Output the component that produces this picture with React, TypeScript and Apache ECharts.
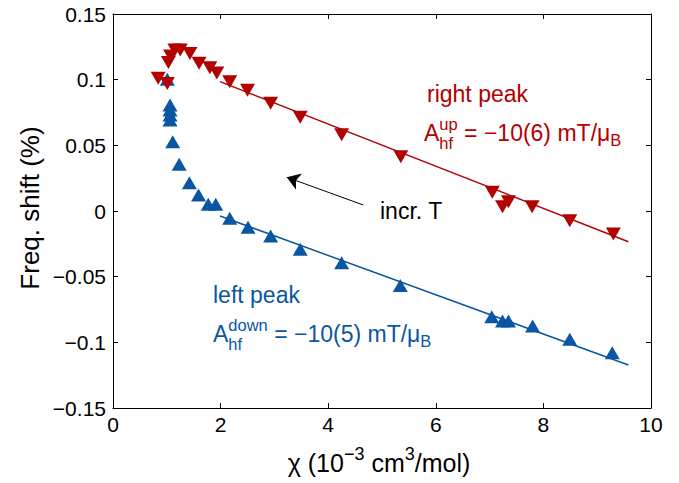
import React, { useEffect, useRef } from 'react';
import * as echarts from 'echarts';

const FONT = '"Liberation Sans", Arial, Helvetica, sans-serif';
const RED = '#B30000';
const BLUE = '#0A56A3';

// right peak (down triangles)
const rightPeakX = [0.84, 1.01, 1.03, 1.07, 1.15, 1.25, 1.43, 1.60, 1.80, 1.93, 2.17, 2.50, 2.93, 3.48, 4.25, 5.35, 7.05, 7.24, 7.35, 7.79, 8.49, 9.30];
const rightPeakY = [0.101, 0.097, 0.113, 0.118, 0.1226, 0.1226, 0.120, 0.1125, 0.109, 0.105, 0.0985, 0.092, 0.082, 0.0714, 0.058, 0.0414, 0.0142, 0.0033, 0.0071, 0.0033, -0.0074, -0.0175];
// left peak (up triangles)
const leftPeakX = [1.01, 1.06, 1.06, 1.06, 1.06, 1.11, 1.23, 1.42, 1.59, 1.77, 1.91, 2.17, 2.51, 2.93, 3.48, 4.25, 5.34, 7.04, 7.24, 7.35, 7.80, 8.49, 9.28];
const leftPeakY = [0.1003, 0.0807, 0.0769, 0.0731, 0.0693, 0.0528, 0.0356, 0.0216, 0.0122, 0.0051, 0.0051, -0.0056, -0.0124, -0.019, -0.0292, -0.0394, -0.0567, -0.0805, -0.0838, -0.0838, -0.0876, -0.0977, -0.1079];
// linear fits
const rightFitX = [1.99, 9.58];
const rightFitY = [0.0985, -0.0234];
const leftFitX = [1.99, 9.58];
const leftFitY = [-0.0038, -0.1173];
// arrow "incr. T"
const arrowFrom = [4.65, 0.0046];
const arrowTo = [3.23, 0.0257];

const xMin = 0, xMax = 10, xStep = 2;
const yMin = -0.15, yMax = 0.15, yStep = 0.05;

const zip = (xs: number[], ys: number[]) => xs.map((x, i) => [x, ys[i]]);

let ctx: CanvasRenderingContext2D | null = null;
function measure(t: string, size: number) {
  if (!ctx) ctx = document.createElement('canvas').getContext('2d');
  ctx!.font = `${size}px ${FONT}`;
  return ctx!.measureText(t).width;
}

function txt(x: number, y: number, text: string, size: number, color: string, extra: any = {}) {
  return {
    type: 'text',
    x, y,
    ...extra,
    style: {
      text, fill: color, font: `${size}px ${FONT}`,
      align: extra.align || 'left', verticalAlign: 'middle',
      textAlign: extra.align || 'left', textVerticalAlign: 'middle',
    },
  };
}

type Run = { t?: string; sup?: string; sub?: string; size: number; dy?: number };
function compose(x0: number, y: number, runs: Run[], color: string) {
  const els: any[] = [];
  let x = x0;
  for (const r of runs) {
    if (r.t !== undefined) {
      els.push(txt(x, y + (r.dy || 0), r.t, r.size, color));
      x += measure(r.t, r.size);
    } else {
      let w = 0;
      if (r.sup) { els.push(txt(x, y - 9, r.sup, r.size, color)); w = Math.max(w, measure(r.sup, r.size)); }
      if (r.sub) { els.push(txt(x, y + 10, r.sub, r.size, color)); w = Math.max(w, measure(r.sub, r.size)); }
      x += w;
    }
  }
  return { els, width: x - x0 };
}
function width(runs: Run[]) {
  let w = 0;
  for (const r of runs) {
    if (r.t !== undefined) w += measure(r.t, r.size);
    else w += Math.max(r.sup ? measure(r.sup, r.size) : 0, r.sub ? measure(r.sub, r.size) : 0);
  }
  return w;
}

export default function App() {
  const ref = useRef<HTMLDivElement>(null);
  useEffect(() => {
    const chart = echarts.init(ref.current!, null, { renderer: 'svg' });

    const redRuns: Run[] = [
      { t: 'A', size: 23 }, { sup: 'up', sub: 'hf', size: 16.5 },
      { t: ' = \u221210(6) mT/\u03bc', size: 23 }, { t: 'B', size: 16.5, dy: 7 },
    ];
    const blueRuns: Run[] = [
      { t: 'A', size: 23 }, { sup: 'down', sub: 'hf', size: 16.5 },
      { t: ' = \u221210(5) mT/\u03bc', size: 23 }, { t: 'B', size: 16.5, dy: 7 },
    ];
    const xTitleRuns: Run[] = [
      { t: '\u03c7 (10', size: 25 }, { t: '\u22123', size: 18, dy: -9 },
      { t: ' cm', size: 25 }, { t: '3', size: 18, dy: -9 }, { t: '/mol)', size: 25 },
    ];
    const xTitleW = width(xTitleRuns);

    const graphics: any[] = [
      txt(427, 94, 'right peak', 23, RED),
      ...compose(424, 133, redRuns, RED).els,
      txt(213, 295, 'left peak', 23, BLUE),
      ...compose(213, 334, blueRuns, BLUE).els,
      txt(380, 211, 'incr. T', 23, '#000'),
      ...compose(379 - xTitleW / 2, 463, xTitleRuns, '#000').els,
      txt(30, 208, 'Freq. shift (%)', 26, '#000', { rotation: Math.PI / 2, align: 'center' }),
    ];

    const axisCommon = {
      type: 'value',
      axisLine: { show: true, onZero: false, lineStyle: { color: '#000', width: 1 } },
      axisTick: { show: true, inside: true, length: 5, lineStyle: { color: '#000' } },
      splitLine: { show: false },
    };
    const fmtY = (v: number) => {
      const s = String(Number(v.toFixed(2)));
      return s.replace('-', '\u2212');
    };

    chart.setOption({
      animation: false,
      backgroundColor: '#fff',
      grid: { left: 113, top: 14, width: 538, height: 394 },
      xAxis: [
        { ...axisCommon, position: 'bottom', min: xMin, max: xMax, interval: xStep,
          axisLabel: { color: '#000', fontSize: 21, fontFamily: FONT, margin: 6 } },
        { ...axisCommon, position: 'top', min: xMin, max: xMax, interval: xStep, axisLabel: { show: false } },
      ],
      yAxis: [
        { ...axisCommon, position: 'left', min: yMin, max: yMax, interval: yStep,
          axisLabel: { color: '#000', fontSize: 21, fontFamily: FONT, margin: 7, formatter: fmtY } },
        { ...axisCommon, position: 'right', min: yMin, max: yMax, interval: yStep, axisLabel: { show: false } },
      ],
      series: [
        { type: 'line', data: zip(leftFitX, leftFitY), showSymbol: false, symbol: 'none',
          lineStyle: { color: BLUE, width: 1.5 }, z: 2, silent: true },
        { type: 'line', data: zip(rightFitX, rightFitY), showSymbol: false, symbol: 'none',
          lineStyle: { color: RED, width: 1.5 }, z: 2, silent: true },
        { type: 'scatter', data: zip(leftPeakX, leftPeakY), symbol: 'triangle', symbolSize: [15, 13],
          itemStyle: { color: BLUE, opacity: 1 }, z: 3 },
        { type: 'scatter', data: zip(rightPeakX, rightPeakY), symbol: 'triangle', symbolRotate: 180,
          symbolSize: [15, 13], itemStyle: { color: RED, opacity: 1 }, z: 4 },
        { type: 'lines', coordinateSystem: 'cartesian2d', data: [{ coords: [arrowFrom, arrowTo] }],
          symbol: ['none', 'arrow'], symbolSize: 13,
          lineStyle: { color: '#000', width: 1, opacity: 1, curveness: 0 }, z: 5 },
      ],
      graphic: graphics,
    });
    return () => chart.dispose();
  }, []);
  return <div ref={ref} style={{ width: 679, height: 483, position: 'absolute', left: 0, top: 0 }} />;
}
